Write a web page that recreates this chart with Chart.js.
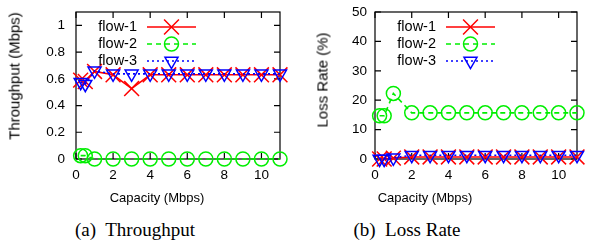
<!DOCTYPE html>
<html>
<head>
<meta charset="utf-8">
<title>Throughput and loss rate vs capacity</title>
<script src="https://cdn.jsdelivr.net/npm/chart.js@4.4.1/dist/chart.umd.min.js"></script>
<style>
html, body { margin: 0; padding: 0; background: #fff; }
#page { position: relative; width: 589px; height: 246px; overflow: hidden;
        font-family: "Liberation Sans", Arial, sans-serif; color: #000; }
canvas { position: absolute; top: 0; }
#tputChart { left: 0; }
#lossChart { left: 292px; }
.lbl { position: absolute; white-space: nowrap; transform: translate(-50%, -50%); }
.xtitle { font-size: 13px; top: 197px; }
.ytitle { font-size: 15px; transform: translate(-50%, -50%) rotate(-90deg); }
.caption { font-family: "Liberation Serif", "Times New Roman", serif; font-size: 19px; top: 230px; }
</style>
</head>
<body>
<div id="page">
    <canvas id="tputChart" width="292" height="190"></canvas>
    <canvas id="lossChart" width="297" height="190"></canvas>
    <div class="lbl ytitle" style="left:14px; top:76px;">Throughput (Mbps)</div>
    <div class="lbl ytitle" style="left:322px; top:80px;">Loss Rate (%)</div>
    <div class="lbl xtitle" style="left:157px;">Capacity (Mbps)</div>
    <div class="lbl xtitle" style="left:425px;">Capacity (Mbps)</div>
    <div class="lbl caption" style="left:135px;">(a)&nbsp; Throughput</div>
    <div class="lbl caption" style="left:407px;">(b)&nbsp; Loss Rate</div>
</div>
<script>
// Data
const capacity = [0.25, 0.5, 1, 2, 3, 4, 5, 6, 7, 8, 9, 10, 11];

const tputFlow1 = [0.59, 0.58, 0.655, 0.63, 0.527, 0.63, 0.63, 0.63, 0.63, 0.63, 0.63, 0.63, 0.63];
const tputFlow2 = [0.025, 0.025, 0, 0, 0, 0, 0, 0, 0, 0, 0, 0, 0];
const tputFlow3 = [0.575, 0.56, 0.66, 0.637, 0.637, 0.637, 0.637, 0.637, 0.637, 0.637, 0.637, 0.637, 0.637];

const lossFlow1 = [0, 0, 0.3, 0.7, 0.7, 0.7, 0.7, 0.7, 0.7, 0.7, 0.7, 0.7, 0.7];
const lossFlow2 = [14.7, 14.7, 22.3, 15.7, 15.7, 15.7, 15.7, 15.7, 15.7, 15.7, 15.7, 15.7, 15.7];
const lossFlow3 = [0, 0, 0.4, 1.3, 1.3, 1.3, 1.3, 1.3, 1.3, 1.3, 1.3, 1.3, 1.3];

const flowNames = ['flow-1', 'flow-2', 'flow-3'];
const xTicks = [0, 2, 4, 6, 8, 10];
const tputTicks = [0, 0.2, 0.4, 0.6, 0.8, 1];
const lossTicks = [0, 10, 20, 30, 40, 50];

const FONT = '"Liberation Sans", Arial, sans-serif';

// line + marker style for each flow
const flowStyles = [
    { color: '#ff0000', dash: [], pointStyle: 'crossRot', radius: 10.5, order: 3 },
    { color: '#00ee00', dash: [5, 4], pointStyle: 'circle', radius: 7, order: 2 },
    { color: '#0000ff', dash: [2, 3], pointStyle: 'triangle', radius: 7.5, rotation: 180, order: 1 }
];

function buildDatasets(seriesList) {
    return seriesList.map((values, i) => {
        const st = flowStyles[i];
        return {
            label: flowNames[i],
            data: capacity.map((x, j) => ({ x: x, y: values[j] })),
            borderColor: st.color,
            borderWidth: 1.6,
            borderDash: st.dash,
            pointStyle: st.pointStyle,
            pointRadius: st.radius,
            pointHoverRadius: st.radius,
            pointRotation: st.rotation || 0,
            pointBorderColor: st.color,
            pointBackgroundColor: 'rgba(0,0,0,0)',
            pointBorderWidth: 1.5,
            tension: 0,
            fill: false,
            clip: false,
            order: st.order
        };
    });
}

// gnuplot-like frame with inward ticks on all four sides
const framePlugin = {
    id: 'frame',
    beforeDatasetsDraw(chart) {
        const { ctx, chartArea: a, scales } = chart;
        ctx.save();
        ctx.strokeStyle = '#000';
        ctx.lineWidth = 1.2;
        ctx.setLineDash([]);
        ctx.strokeRect(a.left, a.top, a.right - a.left, a.bottom - a.top);
        const len = 6;
        ctx.beginPath();
        scales.x.ticks.forEach(t => {
            const px = scales.x.getPixelForValue(t.value);
            ctx.moveTo(px, a.bottom); ctx.lineTo(px, a.bottom - len);
            ctx.moveTo(px, a.top); ctx.lineTo(px, a.top + len);
        });
        scales.y.ticks.forEach(t => {
            const py = scales.y.getPixelForValue(t.value);
            ctx.moveTo(a.left, py); ctx.lineTo(a.left + len, py);
            ctx.moveTo(a.right, py); ctx.lineTo(a.right - len, py);
        });
        ctx.stroke();
        ctx.restore();
    }
};

// legend: text on the left, line sample with marker on the right
const keyPlugin = {
    id: 'key',
    afterDraw(chart) {
        const { ctx, chartArea: a } = chart;
        ctx.save();
        ctx.font = '14.5px ' + FONT;
        ctx.textAlign = 'right';
        ctx.textBaseline = 'middle';
        chart.data.datasets.forEach((ds, i) => {
            const y = a.top + 15 + i * 17;
            ctx.fillStyle = '#000';
            ctx.fillText(ds.label, a.left + 61, y);
            ctx.strokeStyle = ds.borderColor;
            ctx.lineWidth = ds.borderWidth;
            ctx.setLineDash(ds.borderDash);
            ctx.beginPath();
            ctx.moveTo(a.left + 71, y);
            ctx.lineTo(a.left + 120, y);
            ctx.stroke();
            ctx.setLineDash([]);
            ctx.lineWidth = ds.pointBorderWidth;
            ctx.fillStyle = ds.pointBackgroundColor;
            Chart.helpers.drawPoint(ctx, {
                pointStyle: ds.pointStyle,
                rotation: ds.pointRotation,
                radius: ds.pointRadius,
                borderWidth: ds.pointBorderWidth
            }, a.left + 95.5, y);
        });
        ctx.restore();
    }
};

function makeChart(id, seriesList, yTicks, yMax, yAxisWidth, yLabelPad, padRight) {
    const ctx = document.getElementById(id).getContext('2d');
    return new Chart(ctx, {
        type: 'line',
        data: { datasets: buildDatasets(seriesList) },
        options: {
            responsive: false,
            animation: false,
            events: [],
            devicePixelRatio: 1,
            layout: { padding: { top: 6, right: padRight, bottom: 0, left: 0 } },
            plugins: { legend: { display: false }, tooltip: { enabled: false } },
            scales: {
                x: {
                    type: 'linear',
                    min: 0,
                    max: 11,
                    grid: { display: false, drawTicks: false },
                    border: { display: false },
                    ticks: { color: '#000', font: { family: FONT, size: 13.5 }, padding: 8, maxRotation: 0,
                             callback: v => String(v) },
                    afterBuildTicks: s => { s.ticks = xTicks.map(v => ({ value: v })); },
                    afterFit: s => { s.height = 31; s.paddingLeft = 0; s.paddingRight = 0; }
                },
                y: {
                    type: 'linear',
                    min: 0,
                    max: yMax,
                    grid: { display: false, drawTicks: false },
                    border: { display: false },
                    ticks: { color: '#000', font: { family: FONT, size: 13.5 }, padding: yLabelPad,
                             callback: v => String(v) },
                    afterBuildTicks: s => { s.ticks = yTicks.map(v => ({ value: v })); },
                    afterFit: s => { s.width = yAxisWidth; s.paddingTop = 0; s.paddingBottom = 0; }
                }
            }
        },
        plugins: [framePlugin, keyPlugin]
    });
}

makeChart('tputChart', [tputFlow1, tputFlow2, tputFlow3], tputTicks, 1.1, 76, 11, 12);
makeChart('lossChart', [lossFlow1, lossFlow2, lossFlow3], lossTicks, 50, 83, 8, 2);
</script>
</body>
</html>
